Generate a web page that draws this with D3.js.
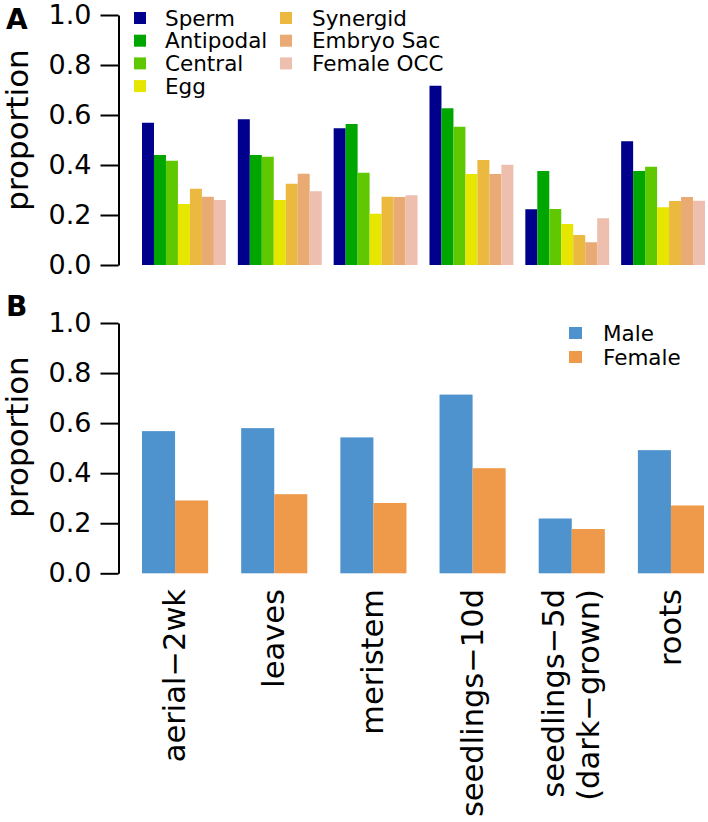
<!DOCTYPE html>
<html>
<head>
<meta charset="utf-8">
<script src="https://cdn.jsdelivr.net/npm/d3@7"></script>
<style>
  html, body { margin: 0; padding: 0; background: #fff; }
  svg { display: block; font-family: "DejaVu Sans", sans-serif; }
</style>
</head>
<body>
<svg id="chart" width="708" height="822"></svg>
<script>
// ---------- data ----------
const tissues = ["aerial\u22122wk", "leaves", "meristem", "seedlings\u221210d", "seedlings\u22125d\n(dark\u2212grown)", "roots"];
const cellTypes = ["Sperm", "Antipodal", "Central", "Egg", "Synergid", "Embryo Sac", "Female OCC"];
const cellColors = ["#00008C", "#00A600", "#5FC800", "#E6E600", "#EBB840", "#E9AB73", "#EEBFAE"];
// one array per cell type, values per tissue
const sperm      = [0.569, 0.583, 0.547, 0.717, 0.223, 0.495];
const antipodal  = [0.440, 0.440, 0.564, 0.627, 0.376, 0.376];
const central    = [0.417, 0.433, 0.369, 0.553, 0.224, 0.393];
const egg        = [0.244, 0.260, 0.205, 0.364, 0.164, 0.231];
const synergid   = [0.305, 0.325, 0.273, 0.420, 0.120, 0.256];
const embryoSac  = [0.273, 0.365, 0.272, 0.364, 0.091, 0.272];
const femaleOCC  = [0.260, 0.295, 0.279, 0.401, 0.187, 0.257];
const sexes = ["Male", "Female"];
const sexColors = ["#4F93CE", "#EE9A4A"];
const male   = [0.568, 0.580, 0.543, 0.714, 0.219, 0.492];
const female = [0.291, 0.316, 0.281, 0.420, 0.177, 0.271];
const yTicks = [0.0, 0.2, 0.4, 0.6, 0.8, 1.0];

const seriesA = [sperm, antipodal, central, egg, synergid, embryoSac, femaleOCC];
const seriesB = [male, female];

// ---------- drawing ----------
const svg = d3.select("#chart");
const spineX = 118.5;

function yAxis(g, y) {
  const ax = d3.axisLeft(y).tickValues(yTicks).tickFormat(d3.format(".1f"))
    .tickSize(18).tickSizeOuter(0).tickPadding(9);
  g.attr("transform", `translate(${spineX},0)`).call(ax);
  g.select(".domain").attr("stroke", "#000").attr("stroke-width", 2);
  g.selectAll(".tick line").attr("stroke", "#000").attr("stroke-width", 2);
  g.selectAll(".tick text").attr("font-size", 27).attr("font-family", "DejaVu Sans").attr("fill", "#000");
}

function yLabel(cy) {
  svg.append("text")
    .attr("transform", `translate(28,${cy}) rotate(-90)`)
    .attr("text-anchor", "middle")
    .attr("font-size", 31)
    .text("proportion");
}

// Panel A
const yA = d3.scaleLinear().domain([0, 1]).range([265, 15]);
const xA = d3.scaleBand().domain(tissues).range([142, 705]).paddingInner(0.125).paddingOuter(0);
const xAin = d3.scaleBand().domain(cellTypes).range([0, xA.bandwidth()]).padding(0);

const gA = svg.append("g");
tissues.forEach((t, ti) => {
  gA.append("g").attr("transform", `translate(${xA(t)},0)`)
    .selectAll("rect").data(cellTypes).join("rect")
    .attr("x", c => xAin(c))
    .attr("width", xAin.bandwidth())
    .attr("y", (c, ci) => yA(seriesA[ci][ti]))
    .attr("height", (c, ci) => yA(0) - yA(seriesA[ci][ti]))
    .attr("fill", (c, ci) => cellColors[ci]);
});
yAxis(svg.append("g"), yA);
yLabel(130);

// Legend A
const legA = svg.append("g");
cellTypes.forEach((c, i) => {
  const col = i < 4 ? 0 : 1;
  const row = i < 4 ? i : i - 4;
  const sx = col === 0 ? 134 : 280;
  const tx = col === 0 ? 165 : 312;
  const cy = 18 + row * 22.7;
  legA.append("rect").attr("x", sx).attr("y", cy - 6).attr("width", 12).attr("height", 12).attr("fill", cellColors[i]);
  legA.append("text").attr("x", tx).attr("y", cy).attr("dy", "0.36em").attr("font-size", 21.5).text(c);
});

// Panel B
const yB = d3.scaleLinear().domain([0, 1]).range([573.3, 323]);
const xB = d3.scaleBand().domain(tissues).range([142, 704]).paddingInner(1 / 3).paddingOuter(0);
const xBin = d3.scaleBand().domain(sexes).range([0, xB.bandwidth()]).padding(0);

tissues.forEach((t, ti) => {
  svg.append("g").attr("transform", `translate(${xB(t)},0)`)
    .selectAll("rect").data(sexes).join("rect")
    .attr("x", s => xBin(s))
    .attr("width", xBin.bandwidth())
    .attr("y", (s, si) => yB(seriesB[si][ti]))
    .attr("height", (s, si) => yB(0) - yB(seriesB[si][ti]))
    .attr("fill", (s, si) => sexColors[si]);
});
yAxis(svg.append("g"), yB);
yLabel(437);

// Legend B
sexes.forEach((s, i) => {
  const cy = 333 + i * 24;
  svg.append("rect").attr("x", 569).attr("y", cy - 6).attr("width", 13).attr("height", 12).attr("fill", sexColors[i]);
  svg.append("text").attr("x", 603).attr("y", cy).attr("dy", "0.36em").attr("font-size", 21.5).text(s);
});

// X labels
tissues.forEach(t => {
  const cx = xB(t) + xB.bandwidth() / 2;
  const lines = t.split("\n");
  const lh = 35;
  const first = -(lines.length - 1) * lh / 2;
  lines.forEach((ln, li) => {
    svg.append("text")
      .attr("transform", `translate(${cx + first + li * lh},589) rotate(-90)`)
      .attr("text-anchor", "end")
      .attr("dy", "0.33em")
      .attr("font-size", 30.5)
      .text(ln);
  });
});

// Panel letters
svg.append("text").attr("x", 6).attr("y", 29).attr("font-size", 28).attr("font-weight", "bold").text("A");
svg.append("text").attr("x", 6).attr("y", 316).attr("font-size", 28).attr("font-weight", "bold").text("B");
</script>
</body>
</html>
